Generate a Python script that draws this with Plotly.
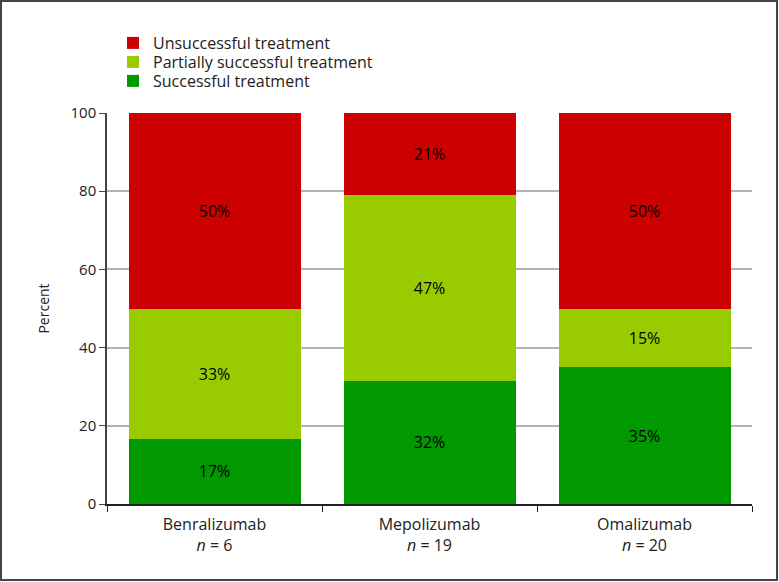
import plotly.graph_objects as go

categories = ["Benralizumab<br><i>n</i> = 6", "Mepolizumab<br><i>n</i> = 19", "Omalizumab<br><i>n</i> = 20"]
successful = [16.67, 31.58, 35.0]
partial = [33.33, 47.37, 15.0]
unsuccessful = [50.0, 21.05, 50.0]
y_ticks = [0, 20, 40, 60, 80, 100]

series = [
    ("Successful treatment", successful, "#009900", "legend3"),
    ("Partially successful treatment", partial, "#99cc00", "legend2"),
    ("Unsuccessful treatment", unsuccessful, "#cc0000", "legend"),
]

FONT = "Open Sans"
fig = go.Figure()
for name, vals, color, leg in series:
    fig.add_trace(go.Bar(
        x=categories, y=vals, name=name, legend=leg,
        marker=dict(color=color, line=dict(width=0)),
        texttemplate="%{y:.0f}%", textposition="inside",
        insidetextanchor="middle",
        textfont=dict(color="black", size=16, family=FONT),
        hoverinfo="skip",
    ))

W, H = 779, 582
ml, mr, mt, mb = 107, 27, 113, 78
pw, ph = W - ml - mr, H - mt - mb


def leg(top_px):
    return dict(
        x=(113 - ml) / pw, y=1 + (mt - top_px) / ph, xanchor="left", yanchor="top",
        font=dict(size=16, family=FONT, color="#222"),
        bgcolor="rgba(0,0,0,0)", itemwidth=30,
    )


fig.update_layout(
    width=W, height=H,
    margin=dict(l=ml, r=mr, t=mt, b=mb, autoexpand=False),
    barmode="stack", bargap=0.2,
    plot_bgcolor="white", paper_bgcolor="white",
    font=dict(family=FONT, size=15, color="#222"),
    showlegend=True,
    legend=leg(26), legend2=leg(45), legend3=leg(64),
    xaxis=dict(
        showline=True, linecolor="#222", linewidth=1.5,
        ticks="outside", tickson="boundaries", ticklen=6, tickcolor="#222",
        showgrid=False, tickfont=dict(size=16, family=FONT, color="#222"),
        ticklabelstandoff=5, fixedrange=True,
    ),
    yaxis=dict(
        range=[0, 100], tickvals=y_ticks,
        showline=True, linecolor="#444", linewidth=1.5,
        ticks="outside", ticklen=6, tickcolor="#444",
        showgrid=True, gridcolor="#b4b4b4", gridwidth=1.5,
        zeroline=False,
        tickfont=dict(size=15, family=FONT, color="#222"),
        title=dict(text="Percent", font=dict(size=14, family=FONT, color="#222"), standoff=18),
        automargin=False, fixedrange=True,
    ),
    shapes=[dict(
        type="rect", xref="paper", yref="paper",
        x0=-(ml - 1) / pw, x1=(W - ml - 2) / pw,
        y0=-(mb - 2) / ph, y1=(H - mb - 1) / ph,
        line=dict(color="#444", width=2), layer="above",
    )],
)

fig.write_html(
    "out.html",
    config={"displayModeBar": False},
    post_script="document.body.style.margin='0';document.body.style.overflow='hidden';",
)
